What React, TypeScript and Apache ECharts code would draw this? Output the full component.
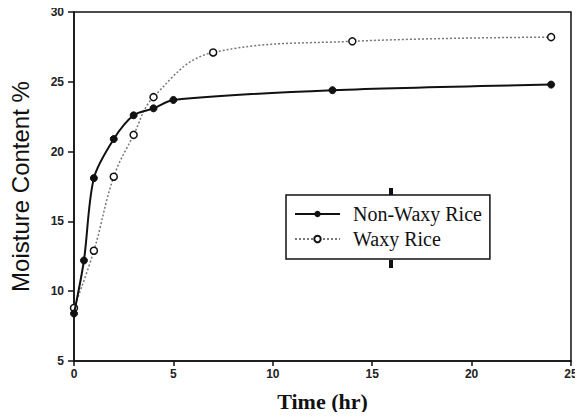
import React, { useEffect, useRef } from "react";
import * as echarts from "echarts";

const timeNonWaxy = [0, 0.5, 1, 2, 3, 4, 5, 13, 24];
const moistureNonWaxy = [8.4, 12.2, 18.1, 20.9, 22.6, 23.1, 23.7, 24.4, 24.8];
const timeWaxy = [0, 1, 2, 3, 4, 7, 14, 24];
const moistureWaxy = [8.8, 12.9, 18.2, 21.2, 23.9, 27.1, 27.9, 28.2];
const seriesNames = ["Non-Waxy Rice", "Waxy Rice"];

export default function App() {
  const ref = useRef<HTMLDivElement>(null);
  useEffect(() => {
    if (!ref.current) return;
    const chart = echarts.init(ref.current, null, { renderer: "svg" });
    const tickLabel = {
      color: "#222",
      fontFamily: "Liberation Sans, Arial",
      fontSize: 12,
      fontWeight: "bold",
    };
    chart.setOption({
      animation: false,
      backgroundColor: "#fff",
      grid: {
        left: 74,
        right: 12,
        top: 12,
        bottom: 59,
        show: true,
        borderColor: "#111",
        borderWidth: 1.5,
      },
      xAxis: {
        type: "value",
        min: 0,
        max: 25,
        interval: 5,
        name: "Time (hr)",
        nameLocation: "middle",
        nameGap: 29,
        nameTextStyle: {
          fontFamily: "Liberation Serif, Times New Roman, serif",
          fontWeight: "bold",
          fontSize: 22,
          color: "#111",
        },
        axisLine: { show: true, lineStyle: { color: "#111", width: 1.5 } },
        axisTick: { show: true, length: 5, lineStyle: { color: "#111", width: 1.5 } },
        axisLabel: { ...tickLabel, margin: 7 },
        splitLine: { show: false },
      },
      yAxis: {
        type: "value",
        min: 5,
        max: 30,
        interval: 5,
        name: "Moisture Content %",
        nameLocation: "middle",
        nameGap: 42,
        nameTextStyle: {
          fontFamily: "Liberation Sans, Arial",
          fontSize: 24,
          color: "#111",
        },
        axisLine: { show: true, lineStyle: { color: "#111", width: 1.5 } },
        axisTick: { show: true, length: 6, lineStyle: { color: "#111", width: 1.5 } },
        axisLabel: { ...tickLabel, margin: 10 },
        splitLine: { show: false },
      },
      legend: {
        orient: "vertical",
        left: 286,
        top: 195,
        padding: [9, 8, 10, 8],
        itemGap: 5,
        itemWidth: 45,
        itemHeight: 8,
        borderColor: "#111",
        borderWidth: 1.5,
        backgroundColor: "#fff",
        data: seriesNames,
        textStyle: {
          fontFamily: "Liberation Serif, Times New Roman, serif",
          fontSize: 20,
          color: "#111",
          width: 136,
          padding: [0, 0, 0, 8],
        },
      },
      graphic: [
        { type: "rect", shape: { x: 389, y: 188, width: 4, height: 7 }, style: { fill: "#111" }, z: 10 },
        { type: "rect", shape: { x: 389, y: 260, width: 4, height: 8 }, style: { fill: "#111" }, z: 10 },
      ],
      series: [
        {
          name: seriesNames[0],
          type: "line",
          data: timeNonWaxy.map((t, i) => [t, moistureNonWaxy[i]]),
          smooth: 0.3,
          symbol: "circle",
          symbolSize: 7,
          lineStyle: { color: "#111", width: 2 },
          itemStyle: { color: "#111", borderColor: "#111" },
          z: 3,
        },
        {
          name: seriesNames[1],
          type: "line",
          data: timeWaxy.map((t, i) => [t, moistureWaxy[i]]),
          smooth: 0.4,
          symbol: "circle",
          symbolSize: 7,
          lineStyle: { color: "#777", width: 1.5, type: [2, 2] },
          itemStyle: { color: "#fff", borderColor: "#111", borderWidth: 1.5 },
          z: 2,
        },
      ],
    });
    return () => chart.dispose();
  }, []);
  return <div ref={ref} style={{ width: 583, height: 420, margin: -8 }} />;
}
